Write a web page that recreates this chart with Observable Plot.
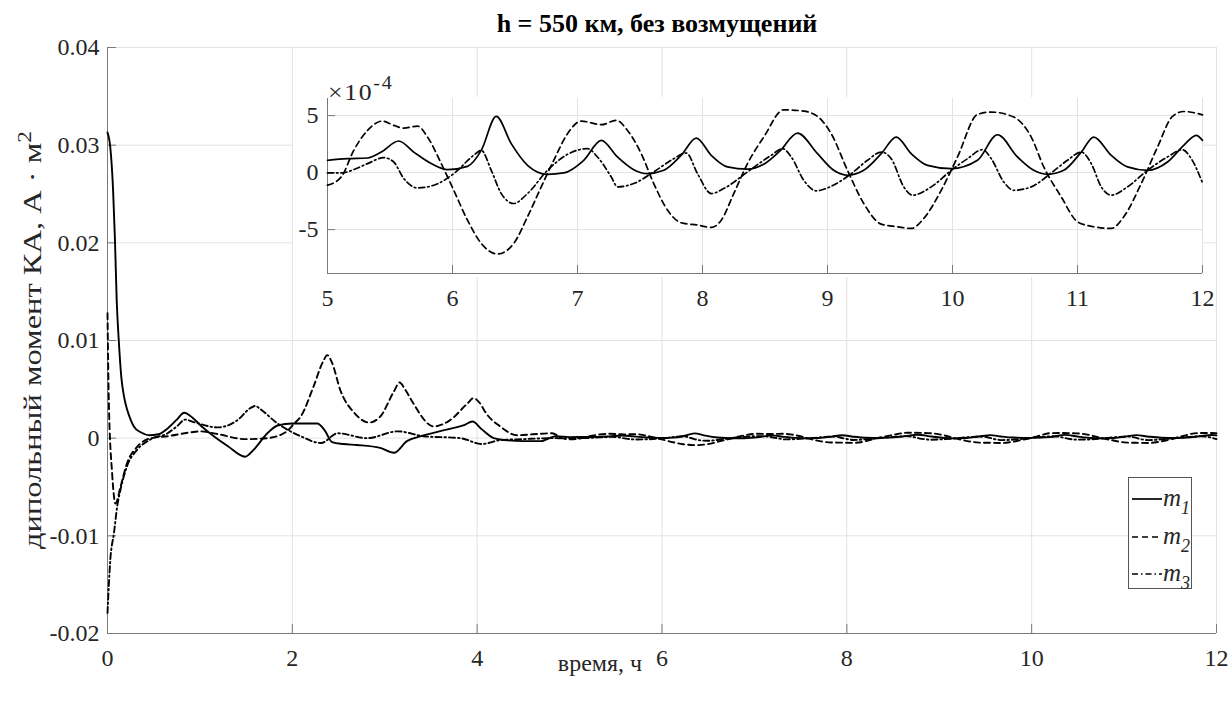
<!DOCTYPE html>
<html>
<head>
<meta charset="utf-8">
<script src="https://cdn.jsdelivr.net/npm/d3@7"></script>
<script src="https://cdn.jsdelivr.net/npm/@observablehq/plot@0.6"></script>
<style>
  body { margin: 0; background: #fff; }
  #wrap { position: relative; width: 1232px; height: 702px; overflow: hidden;
          font-family: "Liberation Serif", "Times New Roman", serif; color: #262626; background: #fff; }
  #wrap svg { position: absolute; left: 0; top: 0; background: transparent !important; }
  .abs { position: absolute; white-space: nowrap; line-height: 1; }
</style>
</head>
<body>
<div id="wrap"></div>
<script>
// ---------- data ----------
const titleText = "h = 550 км, без возмущений";
const xLabelText = "время, ч";
const seriesNames = ["m1", "m2", "m3"];
const seriesSubs = ["1", "2", "3"];
const seriesDash = ["none", "6,4", "6,3,1.5,3"];

const xTicksMain = [0, 2, 4, 6, 8, 10, 12];
const yTicksMain = [-0.02, -0.01, 0, 0.01, 0.02, 0.03, 0.04];
const xTicksInset = [5, 6, 7, 8, 9, 10, 11, 12];
const yTicksInset = [-5, 0, 5];
const insetYDomain = [-8.85, 6.5];
const insetScale = 1e-4;

// early part, t = 0..5 h, values in A·m²
const m1Time = [0,0.03,0.06,0.08,0.1,0.122,0.15,0.18,0.213,0.25,0.285,0.36,0.45,0.55,0.65,0.75,0.83,0.92,1.02,1.15,1.3,1.49,1.58,1.73,1.84,2.0,2.27,2.35,2.43,2.55,2.7,2.95,3.1,3.24,3.39,3.68,3.85,3.95,4.05,4.18,4.3,4.5,4.69,4.85];
const m1Val  = [0.0313,0.0298,0.0255,0.0205,0.014,0.01,0.0062,0.0042,0.0029,0.0019,0.0012,0.0006,0.0003,0.0004,0.001,0.0019,0.0026,0.0021,0.0012,0.0002,-0.0008,-0.0019,-0.0012,0.0005,0.0013,0.0015,0.0015,0.0008,-0.0004,-0.0006,-0.0007,-0.001,-0.0015,-0.0003,0.0002,0.0009,0.0013,0.0017,0.0009,0.0,-0.0002,-0.0003,-0.0003,0.0002];

const m2Time = [0,0.014,0.05,0.087,0.14,0.21,0.32,0.47,0.65,0.9,1.0,1.2,1.49,1.73,1.94,2.02,2.09,2.23,2.33,2.38,2.43,2.52,2.67,2.83,2.95,3.1,3.16,3.22,3.3,3.53,3.7,3.9,3.96,4.02,4.1,4.25,4.43,4.6,4.81,4.92];
const m2Val  = [0.0128,0.0039,-0.0036,-0.0067,-0.005,-0.0026,-0.0009,0.0,0.0002,0.0006,0.0007,0.0004,-0.0001,0.0,0.0007,0.0015,0.0022,0.0053,0.0078,0.0085,0.0077,0.0049,0.0026,0.0016,0.0022,0.0048,0.0057,0.005,0.0037,0.0012,0.0018,0.0036,0.0041,0.0037,0.0025,0.0012,0.0003,0.0004,0.0005,0.0];

const m3Time = [0,0.03,0.07,0.105,0.14,0.21,0.32,0.47,0.65,0.75,0.84,0.95,1.19,1.4,1.55,1.6,1.65,1.84,2.09,2.31,2.49,2.81,3.14,3.42,3.82,4.05,4.25,4.5,4.8];
const m3Val  = [-0.0179,-0.0125,-0.0097,-0.007,-0.0053,-0.0029,-0.0012,-0.0001,0.0005,0.0012,0.0019,0.0016,0.0011,0.0018,0.0031,0.0033,0.003,0.0015,0.0002,-0.0005,0.0005,0.0,0.0007,0.0002,0.0,-0.0006,-0.0002,-0.0001,0.0];

// late part, t = 5..12 h, values in units of 1e-4 A·m² (shown in the inset)
const m1TimeLate = [5.0,5.16,5.32,5.43,5.57,5.69,5.83,5.96,6.12,6.23,6.35,6.47,6.6,6.76,6.89,7.05,7.19,7.32,7.45,7.56,7.69,7.83,7.95,8.07,8.2,8.36,8.5,8.62,8.76,8.92,9.05,9.16,9.29,9.43,9.55,9.67,9.8,9.99,10.2,10.36,10.52,10.65,10.76,10.89,11.03,11.13,11.27,11.4,11.56,11.72,11.85,11.95,12.0];
const m1ValLate  = [1.08,1.22,1.28,1.8,2.77,1.8,0.79,0.26,0.55,1.95,4.93,2.54,0.64,-0.15,-0.03,1.08,2.83,1.37,0.26,-0.09,0.2,1.52,3.03,1.52,0.5,0.3,0.8,1.9,3.47,1.66,0.2,-0.23,0.2,1.66,3.12,1.66,0.64,0.35,1.08,3.32,1.37,0.2,-0.15,0.2,1.8,3.12,1.52,0.5,0.2,0.93,2.39,3.27,2.83];

const m2TimeLate = [5.0,5.11,5.21,5.32,5.44,5.53,5.61,5.72,5.8,5.91,6.01,6.12,6.23,6.36,6.49,6.6,6.71,6.81,6.92,7.03,7.19,7.31,7.4,7.51,7.61,7.72,7.83,7.96,8.07,8.15,8.25,8.36,8.49,8.65,8.81,8.92,9.03,9.16,9.29,9.43,9.56,9.67,9.77,9.91,10.04,10.2,10.31,10.49,10.63,10.73,10.87,11.0,11.13,11.27,11.37,11.51,11.64,11.76,11.85,12.0];
const m2ValLate  = [-1.1,-0.38,1.95,3.7,4.52,4.14,3.9,4.08,3.12,0.79,-1.55,-4.17,-6.21,-7.14,-6.21,-3.88,-1.25,1.08,3.41,4.52,4.2,4.58,3.7,1.66,-0.96,-3.29,-4.4,-4.6,-4.81,-4.17,-1.84,0.79,3.12,5.51,5.39,4.93,3.41,0.2,-2.71,-4.52,-4.75,-4.9,-4.02,-1.55,1.37,5.1,5.31,4.87,3.12,0.5,-2.13,-4.31,-4.75,-4.9,-3.88,-0.96,2.24,4.93,5.36,5.07];

const m3TimeLate = [5.0,5.11,5.21,5.32,5.45,5.53,5.61,5.72,5.85,6.01,6.17,6.23,6.31,6.39,6.49,6.6,6.76,6.92,7.08,7.16,7.27,7.32,7.45,7.61,7.77,7.87,7.96,8.07,8.17,8.36,8.47,8.55,8.64,8.71,8.81,8.91,9.03,9.19,9.32,9.43,9.51,9.61,9.68,9.83,9.99,10.12,10.24,10.31,10.41,10.49,10.63,10.79,10.92,11.03,11.11,11.19,11.27,11.4,11.56,11.72,11.84,11.91,12.0];
const m3ValLate  = [-0.03,-0.03,0.26,0.79,1.31,0.93,-0.52,-1.34,-1.11,-0.09,1.52,1.95,0.2,-1.84,-2.71,-1.84,0.2,1.6,2.1,1.37,-0.38,-1.25,-0.96,0.06,1.22,1.72,-0.09,-1.84,-1.4,0.06,0.93,1.52,2.1,1.37,-0.67,-1.6,-1.2,-0.09,1.08,1.8,1.22,-1.25,-1.98,-1.25,0.2,1.22,2.01,1.22,-0.82,-1.55,-1.25,-0.03,1.08,1.8,0.79,-1.25,-1.98,-1.25,0.2,1.37,2.01,1.22,-0.9];

// ---------- build tables ----------
const early = [[m1Time, m1Val], [m2Time, m2Val], [m3Time, m3Val]];
const late = [[m1TimeLate, m1ValLate], [m2TimeLate, m2ValLate], [m3TimeLate, m3ValLate]];
const mainSeries = seriesNames.map((name, i) => {
  const rows = early[i][0].map((t, j) => ({t, v: early[i][1][j]}));
  late[i][0].forEach((t, j) => rows.push({t, v: late[i][1][j] * insetScale}));
  return rows;
});
const insetSeries = seriesNames.map((name, i) => late[i][0].map((t, j) => ({t, u: late[i][1][j]})));

const AXIS = "#7a7a7a", GRID = "#e2e2e2", INK = "#262626";
const FONT = '"Liberation Serif", "Times New Roman", serif';
const wrap = document.getElementById("wrap");
const tickText = {fontFamily: FONT, fontSize: 24, fill: INK, stroke: AXIS, label: null, tickFormat: d => String(d)};

// ---------- main chart ----------
const mainPlot = Plot.plot({
  width: 1232, height: 702,
  marginLeft: 107, marginRight: 16, marginTop: 47, marginBottom: 69,
  style: {fontFamily: FONT, fontSize: "24px", color: INK, background: "transparent", overflow: "visible"},
  x: {domain: [xTicksMain[0], xTicksMain[xTicksMain.length - 1]]},
  y: {domain: [yTicksMain[0], yTicksMain[yTicksMain.length - 1]]},
  marks: [
    Plot.gridX(xTicksMain, {stroke: GRID, strokeOpacity: 1}),
    Plot.gridY(yTicksMain, {stroke: GRID, strokeOpacity: 1}),
    Plot.ruleX([xTicksMain[0]], {stroke: AXIS}),
    Plot.ruleY([yTicksMain[0]], {stroke: AXIS}),
    Plot.axisX(xTicksMain, {...tickText, tickSize: -9, tickPadding: 24}),
    Plot.axisY(yTicksMain, {...tickText, tickSize: -9, tickPadding: 17}),
    ...mainSeries.map((rows, i) => Plot.line(rows, {x: "t", y: "v", curve: "monotone-x", stroke: "black", strokeWidth: 1.9, strokeDasharray: seriesDash[i]}))
  ]
});
wrap.appendChild(mainPlot);

// white backdrop for inset
const back = document.createElement("div");
back.className = "abs";
Object.assign(back.style, {left: "293px", top: "97px", width: "909px", height: "180px", background: "#fff"});
wrap.appendChild(back);

// ---------- inset chart ----------
const insetPlot = Plot.plot({
  width: 1232, height: 702,
  marginLeft: 327, marginRight: 30, marginTop: 98, marginBottom: 429,
  style: {fontFamily: FONT, fontSize: "24px", color: INK, background: "transparent", overflow: "visible"},
  x: {domain: [xTicksInset[0], xTicksInset[xTicksInset.length - 1]]},
  y: {domain: insetYDomain},
  marks: [
    Plot.gridX(xTicksInset, {stroke: GRID, strokeOpacity: 1}),
    Plot.gridY(yTicksInset, {stroke: GRID, strokeOpacity: 1}),
    Plot.ruleX([xTicksInset[0]], {stroke: AXIS}),
    Plot.ruleY([insetYDomain[0]], {stroke: AXIS}),
    Plot.axisX(xTicksInset, {...tickText, tickSize: -8, tickPadding: 23}),
    Plot.axisY(yTicksInset, {...tickText, tickSize: -8, tickPadding: 17}),
    ...insetSeries.map((rows, i) => Plot.line(rows, {x: "t", y: "u", curve: "monotone-x", stroke: "black", strokeWidth: 1.7, strokeDasharray: seriesDash[i]}))
  ]
});
wrap.appendChild(insetPlot);

// ---------- texts ----------
function addText(html, style) {
  const d = document.createElement("div");
  d.className = "abs";
  d.innerHTML = html;
  Object.assign(d.style, style);
  wrap.appendChild(d);
  return d;
}
addText(titleText, {left: "357px", top: "11px", width: "600px", textAlign: "center", fontWeight: "bold", fontSize: "26px", color: "#000"});
addText(xLabelText, {left: "400px", top: "651px", width: "400px", textAlign: "center", fontSize: "24px"});
addText('дипольный момент КА, А · м<sup style="font-size:18px;vertical-align:10px">2</sup>',
  {left: "30px", top: "340px", fontSize: "25px", transform: "translate(-50%,-50%) rotate(-90deg) scale(1.3,1)", transformOrigin: "center"});
addText('×10<sup style="font-size:18px;vertical-align:11px">-4</sup>',
  {left: "328px", top: "74px", fontSize: "23px", letterSpacing: "1.5px", transform: "scale(1.12,1)", transformOrigin: "left top"});

// ---------- legend ----------
const leg = document.createElement("div");
leg.className = "abs";
Object.assign(leg.style, {left: "1128px", top: "477px", width: "62px", height: "110px", background: "#fff", border: "1px solid #555"});
seriesNames.forEach((name, i) => {
  const row = document.createElement("div");
  Object.assign(row.style, {position: "absolute", left: "2px", top: (8 + i * 37.5) + "px", height: "30px", width: "60px"});
  row.innerHTML =
    `<svg width="32" height="30" style="position:absolute;left:0;top:0;background:transparent"><line x1="1" x2="31" y1="13" y2="13" stroke="black" stroke-width="1.7" stroke-dasharray="${seriesDash[i] === "none" ? "" : seriesDash[i]}"/></svg>` +
    `<span style="position:absolute;left:32px;top:0px;font-style:italic;font-size:25px;line-height:24px">${name[0]}<sub style="font-size:18px;vertical-align:-8px">${seriesSubs[i]}</sub></span>`;
  leg.appendChild(row);
});
wrap.appendChild(leg);
</script>
</body>
</html>
